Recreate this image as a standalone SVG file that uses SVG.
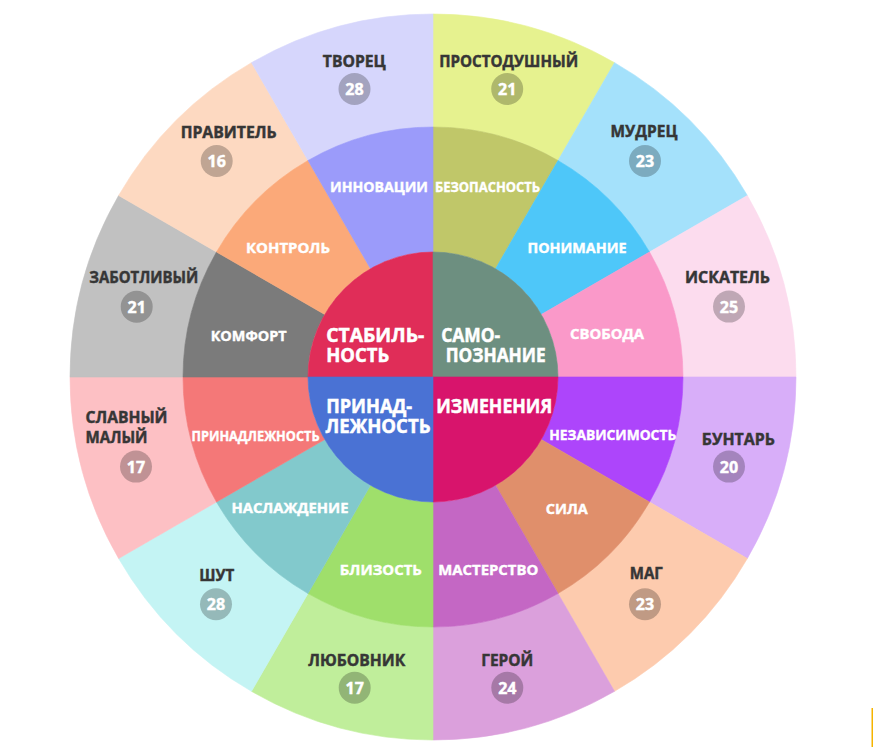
<svg xmlns="http://www.w3.org/2000/svg" width="873" height="747" viewBox="0 0 873 747">
<style>
  .sec { stroke-width: 0.6; }
  .ol { font-family: "Open Sans", "DejaVu Sans", sans-serif; font-weight: 700; font-size: 15.5px; fill: #363636; stroke: #363636; stroke-width: 0.45px; text-anchor: middle; }
  .ml { font-family: "Open Sans", "DejaVu Sans", sans-serif; font-weight: 700; font-size: 14px; fill: #ffffff; stroke: #ffffff; stroke-width: 0.4px; text-anchor: middle; }
  .il { font-family: "Open Sans", "DejaVu Sans", sans-serif; font-weight: 700; font-size: 19px; fill: #ffffff; stroke: #ffffff; stroke-width: 0.5px; }
  .bd { fill: #000000; fill-opacity: 0.24; }
  .bn { font-family: "Open Sans", "DejaVu Sans", sans-serif; font-weight: 700; font-size: 16px; fill: #ffffff; stroke: #ffffff; stroke-width: 0.45px; text-anchor: middle; }
</style>
<rect width="873" height="747" fill="#ffffff"/>

<!-- Outer ring: archetypes -->
<g id="prostodushny">
  <path class="sec" fill="#e6f28f" stroke="#e6f28f" d="M433,14 A363,363 0 0 1 614.5,62.63 L558,160.49 A250,250 0 0 0 433,127 Z"/>
  <text class="ol" x="508.7" y="66.5" textLength="139" lengthAdjust="spacingAndGlyphs">ПРОСТОДУШНЫЙ</text>
  <circle class="bd" cx="507.2" cy="89" r="16"/><text class="bn" x="507.2" y="95">21</text>
</g>
<g id="mudrets">
  <path class="sec" fill="#a4e1fb" stroke="#a4e1fb" d="M614.5,62.63 A363,363 0 0 1 747.37,195.5 L649.51,252 A250,250 0 0 0 558,160.49 Z"/>
  <text class="ol" x="644" y="137.3" textLength="67" lengthAdjust="spacingAndGlyphs">МУДРЕЦ</text>
  <circle class="bd" cx="645" cy="161" r="16"/><text class="bn" x="645" y="167">23</text>
</g>
<g id="iskatel">
  <path class="sec" fill="#fcdcee" stroke="#fcdcee" d="M747.37,195.5 A363,363 0 0 1 796,377 L683,377 A250,250 0 0 0 649.51,252 Z"/>
  <text class="ol" x="727.5" y="282.7" textLength="85" lengthAdjust="spacingAndGlyphs">ИСКАТЕЛЬ</text>
  <circle class="bd" cx="729" cy="306.6" r="16"/><text class="bn" x="729" y="312.6">25</text>
</g>
<g id="buntar">
  <path class="sec" fill="#d8aef9" stroke="#d8aef9" d="M796,377 A363,363 0 0 1 747.37,558.5 L649.51,502 A250,250 0 0 0 683,377 Z"/>
  <text class="ol" x="738.3" y="445" textLength="73" lengthAdjust="spacingAndGlyphs">БУНТАРЬ</text>
  <circle class="bd" cx="729" cy="466.6" r="16"/><text class="bn" x="729" y="472.6">20</text>
</g>
<g id="mag">
  <path class="sec" fill="#fdcbae" stroke="#fdcbae" d="M747.37,558.5 A363,363 0 0 1 614.5,691.37 L558,593.51 A250,250 0 0 0 649.51,502 Z"/>
  <text class="ol" x="646.3" y="579.3" textLength="33" lengthAdjust="spacingAndGlyphs">МАГ</text>
  <circle class="bd" cx="645" cy="604.2" r="16"/><text class="bn" x="645" y="610.2">23</text>
</g>
<g id="geroy">
  <path class="sec" fill="#dba0dc" stroke="#dba0dc" d="M614.5,691.37 A363,363 0 0 1 433,740 L433,627 A250,250 0 0 0 558,593.51 Z"/>
  <text class="ol" x="507.3" y="666" textLength="52" lengthAdjust="spacingAndGlyphs">ГЕРОЙ</text>
  <circle class="bd" cx="507.3" cy="687.8" r="16"/><text class="bn" x="507.3" y="693.8">24</text>
</g>
<g id="lyubovnik">
  <path class="sec" fill="#c0ee9b" stroke="#c0ee9b" d="M433,740 A363,363 0 0 1 251.5,691.37 L308,593.51 A250,250 0 0 0 433,627 Z"/>
  <text class="ol" x="356.7" y="666" textLength="97" lengthAdjust="spacingAndGlyphs">ЛЮБОВНИК</text>
  <circle class="bd" cx="354.7" cy="687.8" r="16"/><text class="bn" x="354.7" y="693.8">17</text>
</g>
<g id="shut">
  <path class="sec" fill="#c4f4f4" stroke="#c4f4f4" d="M251.5,691.37 A363,363 0 0 1 118.63,558.5 L216.49,502 A250,250 0 0 0 308,593.51 Z"/>
  <text class="ol" x="216.7" y="580.7" textLength="35" lengthAdjust="spacingAndGlyphs">ШУТ</text>
  <circle class="bd" cx="216" cy="604.3" r="16"/><text class="bn" x="216" y="610.3">28</text>
</g>
<g id="slavny-maly">
  <path class="sec" fill="#fdc0c4" stroke="#fdc0c4" d="M118.63,558.5 A363,363 0 0 1 70,377 L183,377 A250,250 0 0 0 216.49,502 Z"/>
  <text class="ol" x="85.5" y="422.7" style="text-anchor:start" textLength="82" lengthAdjust="spacingAndGlyphs">СЛАВНЫЙ</text>
  <text class="ol" x="85.5" y="442.7" style="text-anchor:start" textLength="62" lengthAdjust="spacingAndGlyphs">МАЛЫЙ</text>
  <circle class="bd" cx="136" cy="466.6" r="16"/><text class="bn" x="136" y="472.6">17</text>
</g>
<g id="zabotlivy">
  <path class="sec" fill="#c1c1c1" stroke="#c1c1c1" d="M70,377 A363,363 0 0 1 118.63,195.5 L216.49,252 A250,250 0 0 0 183,377 Z"/>
  <text class="ol" x="143.8" y="282.7" textLength="109" lengthAdjust="spacingAndGlyphs">ЗАБОТЛИВЫЙ</text>
  <circle class="bd" cx="136.7" cy="306.7" r="16"/><text class="bn" x="136.7" y="312.7">21</text>
</g>
<g id="pravitel">
  <path class="sec" fill="#fdd9c1" stroke="#fdd9c1" d="M118.63,195.5 A363,363 0 0 1 251.5,62.63 L308,160.49 A250,250 0 0 0 216.49,252 Z"/>
  <text class="ol" x="228.7" y="137.7" textLength="96" lengthAdjust="spacingAndGlyphs">ПРАВИТЕЛЬ</text>
  <circle class="bd" cx="216.7" cy="161" r="16"/><text class="bn" x="216.7" y="167">16</text>
</g>
<g id="tvorets">
  <path class="sec" fill="#d6d6fc" stroke="#d6d6fc" d="M251.5,62.63 A363,363 0 0 1 433,14 L433,127 A250,250 0 0 0 308,160.49 Z"/>
  <text class="ol" x="354.3" y="66.5" textLength="63" lengthAdjust="spacingAndGlyphs">ТВОРЕЦ</text>
  <circle class="bd" cx="354.5" cy="89" r="16"/><text class="bn" x="354.5" y="95">28</text>
</g>

<!-- Middle ring: needs -->
<g id="bezopasnost">
  <path class="sec" fill="#c0c769" stroke="#c0c769" d="M433,127 A250,250 0 0 1 558,160.49 L495.5,268.75 A125,125 0 0 0 433,252 Z"/>
  <text class="ml" x="487.5" y="191.7" textLength="105" lengthAdjust="spacingAndGlyphs">БЕЗОПАСНОСТЬ</text>
</g>
<g id="ponimanie">
  <path class="sec" fill="#4ec7f9" stroke="#4ec7f9" d="M558,160.49 A250,250 0 0 1 649.51,252 L541.25,314.5 A125,125 0 0 0 495.5,268.75 Z"/>
  <text class="ml" x="577" y="252.7" textLength="99" lengthAdjust="spacingAndGlyphs">ПОНИМАНИЕ</text>
</g>
<g id="svoboda">
  <path class="sec" fill="#fa99c9" stroke="#fa99c9" d="M649.51,252 A250,250 0 0 1 683,377 L558,377 A125,125 0 0 0 541.25,314.5 Z"/>
  <text class="ml" x="607" y="339.3" textLength="74" lengthAdjust="spacingAndGlyphs">СВОБОДА</text>
</g>
<g id="nezavisimost">
  <path class="sec" fill="#ad45fb" stroke="#ad45fb" d="M683,377 A250,250 0 0 1 649.51,502 L541.25,439.5 A125,125 0 0 0 558,377 Z"/>
  <text class="ml" x="612.7" y="440" textLength="127" lengthAdjust="spacingAndGlyphs">НЕЗАВИСИМОСТЬ</text>
</g>
<g id="sila">
  <path class="sec" fill="#e08f6b" stroke="#e08f6b" d="M649.51,502 A250,250 0 0 1 558,593.51 L495.5,485.25 A125,125 0 0 0 541.25,439.5 Z"/>
  <text class="ml" x="566.8" y="514" textLength="42" lengthAdjust="spacingAndGlyphs">СИЛА</text>
</g>
<g id="masterstvo">
  <path class="sec" fill="#c467c4" stroke="#c467c4" d="M558,593.51 A250,250 0 0 1 433,627 L433,502 A125,125 0 0 0 495.5,485.25 Z"/>
  <text class="ml" x="488.3" y="575" textLength="100" lengthAdjust="spacingAndGlyphs">МАСТЕРСТВО</text>
</g>
<g id="blizost">
  <path class="sec" fill="#9fdf6b" stroke="#9fdf6b" d="M433,627 A250,250 0 0 1 308,593.51 L370.5,485.25 A125,125 0 0 0 433,502 Z"/>
  <text class="ml" x="380.8" y="575" textLength="82" lengthAdjust="spacingAndGlyphs">БЛИЗОСТЬ</text>
</g>
<g id="naslazhdenie">
  <path class="sec" fill="#82c9cc" stroke="#82c9cc" d="M308,593.51 A250,250 0 0 1 216.49,502 L324.75,439.5 A125,125 0 0 0 370.5,485.25 Z"/>
  <text class="ml" x="290" y="512.5" textLength="117" lengthAdjust="spacingAndGlyphs">НАСЛАЖДЕНИЕ</text>
</g>
<g id="prinadlezhnost">
  <path class="sec" fill="#f47878" stroke="#f47878" d="M216.49,502 A250,250 0 0 1 183,377 L308,377 A125,125 0 0 0 324.75,439.5 Z"/>
  <text class="ml" x="255.5" y="440.5" textLength="128" lengthAdjust="spacingAndGlyphs">ПРИНАДЛЕЖНОСТЬ</text>
</g>
<g id="komfort">
  <path class="sec" fill="#7b7b7b" stroke="#7b7b7b" d="M183,377 A250,250 0 0 1 216.49,252 L324.75,314.5 A125,125 0 0 0 308,377 Z"/>
  <text class="ml" x="248.7" y="340.5" textLength="76" lengthAdjust="spacingAndGlyphs">КОМФОРТ</text>
</g>
<g id="kontrol">
  <path class="sec" fill="#fba979" stroke="#fba979" d="M216.49,252 A250,250 0 0 1 308,160.49 L370.5,268.75 A125,125 0 0 0 324.75,314.5 Z"/>
  <text class="ml" x="288" y="252.5" textLength="84" lengthAdjust="spacingAndGlyphs">КОНТРОЛЬ</text>
</g>
<g id="innovatsii">
  <path class="sec" fill="#9b9bfa" stroke="#9b9bfa" d="M308,160.49 A250,250 0 0 1 433,127 L433,252 A125,125 0 0 0 370.5,268.75 Z"/>
  <text class="ml" x="379" y="191.7" textLength="98" lengthAdjust="spacingAndGlyphs">ИННОВАЦИИ</text>
</g>

<!-- Inner circle: orientations -->
<g id="stabilnost">
  <path class="sec" fill="#e02d58" stroke="#e02d58" d="M433,377 L308,377 A125,125 0 0 1 433,252 Z"/>
  <text class="il" x="326.2" y="341.7" textLength="98" lengthAdjust="spacingAndGlyphs">СТАБИЛЬ-</text>
  <text class="il" x="326.2" y="361.7" textLength="63" lengthAdjust="spacingAndGlyphs">НОСТЬ</text>
</g>
<g id="samopoznanie">
  <path class="sec" fill="#6d8f80" stroke="#6d8f80" d="M433,377 L433,252 A125,125 0 0 1 558,377 Z"/>
  <text class="il" x="441.2" y="341.7" textLength="59" lengthAdjust="spacingAndGlyphs">САМО-</text>
  <text class="il" x="445.7" y="361.7" textLength="100" lengthAdjust="spacingAndGlyphs">ПОЗНАНИЕ</text>
</g>
<g id="izmeneniya">
  <path class="sec" fill="#d8146c" stroke="#d8146c" d="M433,377 L558,377 A125,125 0 0 1 433,502 Z"/>
  <text class="il" x="436.2" y="412.7" textLength="116" lengthAdjust="spacingAndGlyphs">ИЗМЕНЕНИЯ</text>
</g>
<g id="prinadlezhnost-core">
  <path class="sec" fill="#4a72d4" stroke="#4a72d4" d="M433,377 L433,502 A125,125 0 0 1 308,377 Z"/>
  <text class="il" x="326.2" y="413.3" textLength="86" lengthAdjust="spacingAndGlyphs">ПРИНАД-</text>
  <text class="il" x="325.5" y="432.7" textLength="105" lengthAdjust="spacingAndGlyphs">ЛЕЖНОСТЬ</text>
</g>

<g id="connectors"></g>

<rect x="871.5" y="708" width="1.5" height="39" fill="#f5b400"/>
</svg>
